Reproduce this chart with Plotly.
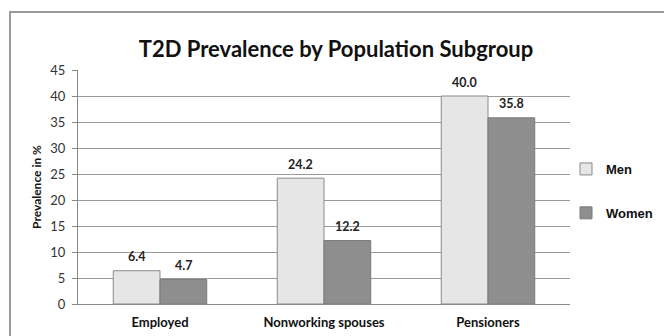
import plotly.graph_objects as go

# Chart data
categories = ["Employed", "Nonworking spouses", "Pensioners"]
men = [6.4, 24.2, 40.0]
women = [4.7, 12.2, 35.8]
y_ticks = [0, 5, 10, 15, 20, 25, 30, 35, 40, 45]

W, H = 664, 336
L, R, T, B = 78, 94, 70, 32

fig = go.Figure()
fig.add_trace(go.Bar(
    name="Men", x=categories, y=men, legendgroup="men",
    marker=dict(color="#e6e6e6", line=dict(color="#8a8a8a", width=1)),
))
fig.add_trace(go.Bar(
    name="Women", x=categories, y=women, legendgroup="women",
    marker=dict(color="#8e8e8e", line=dict(color="#7a7a7a", width=1)),
))

# Value labels above each bar
bar_px = 47
for vals, shift in ((men, -bar_px / 2), (women, bar_px / 2)):
    for c, v in zip(categories, vals):
        fig.add_annotation(
            x=c, y=v, xref="x", yref="y", text=f"{v:.1f}", showarrow=False,
            xshift=shift, yshift=14,
            font=dict(family="Lato", size=12.5, color="#222222", weight="bold"),
        )

# Outer chart frame
pw, ph = W - L - R, H - T - B
fig.add_shape(
    type="rect", xref="paper", yref="paper", layer="below",
    x0=(10 - L) / pw, x1=(W + 10 - L) / pw,
    y0=(H - B - (H + 10)) / ph, y1=(H - B - 12) / ph,
    line=dict(color="#9a9a9a", width=2), fillcolor="rgba(0,0,0,0)",
)

fig.update_layout(
    width=W, height=H,
    margin=dict(l=L, r=R, t=T, b=B, autoexpand=False),
    paper_bgcolor="white", plot_bgcolor="white",
    barmode="group", bargap=0.43, bargroupgap=0,
    title=dict(
        text="<b>T2D Prevalence by Population Subgroup</b>",
        x=0.506, xanchor="center", y=1 - 49 / H, yanchor="middle",
        yref="container",
        font=dict(family="Lato", size=22, color="#111111"),
    ),
    xaxis=dict(
        showgrid=False, showline=True, linecolor="#8a8a8a", linewidth=1,
        ticks="", tickfont=dict(family="Lato", size=13, color="#111111", weight="bold"),
        ticklabelstandoff=6, automargin=False,
    ),
    yaxis=dict(
        range=[0, 45], tickvals=y_ticks, showgrid=True, gridcolor="#9a9a9a",
        gridwidth=1, showline=True, linecolor="#8a8a8a", linewidth=1,
        ticks="outside", ticklen=5, tickcolor="#8a8a8a",
        ticklabelstandoff=4, automargin=False,
        tickfont=dict(family="Lato", size=13, color="#333333"),
        title=dict(text="<b>Prevalence in %</b>", standoff=6,
                   font=dict(family="Lato", size=12, color="#111111")),
        zeroline=False,
    ),
    legend=dict(
        x=(566 - L) / pw, xanchor="left", y=(H - B - 154) / ph, yanchor="top",
        tracegroupgap=24, itemwidth=30,
        font=dict(family="Liberation Sans", size=13, color="#111111", weight="bold"),
        bgcolor="rgba(0,0,0,0)",
    ),
    showlegend=True,
)

fig.write_html("out.html")
